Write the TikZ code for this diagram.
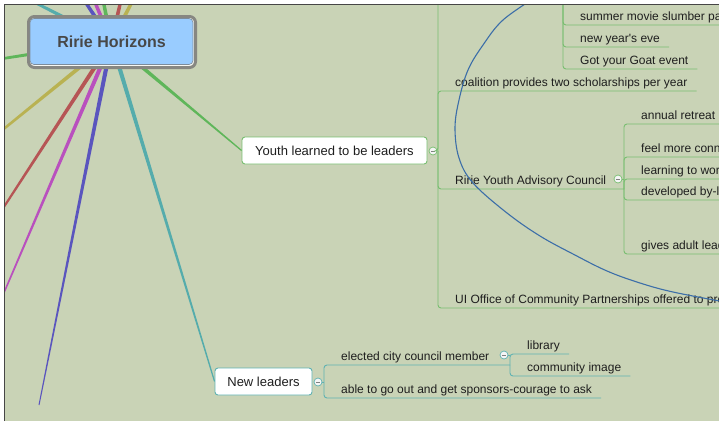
\documentclass[tikz,border=0pt]{standalone}
\usepackage{fontspec}
\setmainfont{Liberation Sans}
\usetikzlibrary{calc}
\pgfdeclarelayer{bg}
\pgfdeclarelayer{lines}
\pgfsetlayers{bg,lines,main}
\definecolor{paper}{RGB}{201,211,182}
\definecolor{frameline}{RGB}{70,70,70}
\definecolor{gline}{RGB}{120,190,112}
\definecolor{tline}{RGB}{95,178,178}
\definecolor{rootblue}{RGB}{153,204,255}
\definecolor{rootedge}{RGB}{125,140,155}
\definecolor{rootframe}{RGB}{135,135,130}
\definecolor{txt}{RGB}{30,30,30}
\definecolor{roottxt}{RGB}{72,72,72}
\definecolor{relblue}{RGB}{60,110,168}
\definecolor{bGreen}{RGB}{95,182,90}
\definecolor{bTeal}{RGB}{85,172,172}
\definecolor{bBlue}{RGB}{90,85,190}
\definecolor{bMag}{RGB}{185,80,190}
\definecolor{bRed}{RGB}{182,85,85}
\definecolor{bOlive}{RGB}{185,178,82}
\newcommand\mmbranch[5]{\fill[#1] ($(#2)!#4!90:(#3)$) -- ($(#3)!#5!-90:(#2)$) -- ($(#3)!#5!90:(#2)$) -- ($(#2)!#4!-90:(#3)$) -- cycle;}
\newcommand\knobmark{\textcolor{gray}{\rule{3.5pt}{0.8pt}}}
\tikzset{
  sub/.style={anchor=south west, inner xsep=9pt, inner ysep=4.3pt, text depth=0pt, text=txt,
    font=\fontsize{12}{14}\selectfont, execute at begin node={\hspace*{8pt}}},
  topicbox/.style={rounded corners=3pt, fill=white, line width=0.9pt, minimum height=27pt,
    inner sep=0pt, text=txt, font=\fontsize{13}{15}\selectfont},
  knob/.style={circle, fill=white!92!gray, line width=0.7pt, minimum size=8pt, inner sep=0pt},
  gl/.style={draw=gline, line width=0.9pt, rounded corners=3pt},
  tl/.style={draw=tline, line width=0.9pt, rounded corners=3pt},
  rootbox/.style={rounded corners=4pt, fill=rootblue, draw=rootedge, line width=0.6pt,
    minimum width=163pt, minimum height=46pt, inner sep=0pt, text=roottxt,
    font=\fontsize{16}{19}\selectfont\bfseries},
  rootring/.style={rounded corners=6pt, draw=rootframe, line width=3pt, fill=white!85!paper,
    minimum width=167pt, minimum height=51pt, inner sep=0pt},
  rel/.style={draw=relblue, line width=1.1pt}
}
\begin{document}
\begin{tikzpicture}[x=1pt,y=-1pt]
\useasboundingbox (0,0) rectangle (719,421);
\begin{pgfonlayer}{bg}
  \fill[white] (0,0) rectangle (719,421);
  \fill[paper] (5,5) rectangle (719,421);
\end{pgfonlayer}

\begin{scope}
\clip (5,5) rectangle (719,421);
% free ends
\coordinate (E) at (730,0);
\coordinate (eGL) at (0,59);
\coordinate (eTT) at (30,0);
\coordinate (eBT) at (84,0);
\coordinate (eMT) at (94,0);
\coordinate (eGT) at (103,0);
\coordinate (eRT) at (121,0);
\coordinate (eOT) at (133,0);
\coordinate (eOB) at (0,132);
\coordinate (eRB) at (0,213);
\coordinate (eMB) at (0,302);
\coordinate (eBB) at (39,405);

% root
\node[rootring] (rring) at (112,42) {};
\node[rootbox] (root) at (111.5,41.5) {Ririe Horizons};

% main topics
\node[topicbox, draw=gline, minimum width=185pt] (youth) at (334.5,150.5) {Youth learned to be leaders};
\node[topicbox, draw=tline, minimum width=97pt] (newl) at (263.5,381.5) {New leaders};

% youth subtree
\node[knob, draw=gline] (c1) at (433,151) {\knobmark};
\coordinate (h1) at (438,151);
\coordinate (top1) at (438,-10);
\coordinate (h2) at (563,-10);
\node[sub] (summer) at (563,25) {summer movie slumber pa};
\node[sub] (nye) at (563,47) {new year\textquotesingle s eve};
\node[sub] (goat) at (563,69) {Got your Goat event};
\node[sub] (coal) at (438,91) {coalition provides two scholarships per year};
\node[sub] (ririe) at (438,189) {Ririe Youth Advisory Council};
\node[sub] (uio) at (438,308) {UI Office of Community Partnerships offered to pro};
\coordinate (h3) at (624,189);
\node[knob, draw=gline] (c3) at (618,179) {\knobmark};
\node[sub] (annual) at (624,124) {annual retreat};
\node[sub] (feel) at (624,157) {feel more conne};
\node[sub] (learn) at (624,179) {learning to wor};
\node[sub] (devel) at (624,200) {developed by-l};
\node[sub] (gives) at (624,254) {gives adult lead};

\draw[gl] (c1) -- (h1) -- (top1);
\draw[gl] (h2) -- (summer.south west) -- (summer.south west -| E);
\draw[gl] (h2) -- (nye.south west) -- (nye.south east);
\draw[gl] (h2) -- (goat.south west) -- (goat.south east);
\draw[gl] (h1) -- (coal.south west) -- (coal.south east);
\draw[gl] (h1) -- (ririe.south west) -- (h3);
\draw[gl] (h1) -- (uio.south west) -- (uio.south west -| E);
\draw[gl] (c3) -- (c3 -| h3);
\draw[gl] (h3) -- (annual.south west) -- (annual.south west -| E);
\draw[gl] (h3) -- (feel.south west) -- (feel.south west -| E);
\draw[gl] (h3) -- (learn.south west) -- (learn.south west -| E);
\draw[gl] (h3) -- (devel.south west) -- (devel.south west -| E);
\draw[gl] (h3) -- (gives.south west) -- (gives.south west -| E);

% new leaders subtree
\node[knob, draw=tline] (c4) at (318,382) {\knobmark};
\coordinate (h4) at (324,382);
\node[sub] (elect) at (324,365) {elected city council member};
\node[sub] (able) at (324,398) {able to go out and get sponsors-courage to ask};
\coordinate (h5) at (510,365);
\node[knob, draw=tline] (c5) at (504,355) {\knobmark};
\node[sub] (lib) at (510,354) {library};
\node[sub] (comm) at (510,376) {community image};

\draw[tl] (c4) -- (h4);
\draw[tl] (h4) -- (elect.south west) -- (h5);
\draw[tl] (h4) -- (able.south west) -- (able.south east);
\draw[tl] (c5) -- (c5 -| h5);
\draw[tl] (h5) -- (lib.south west) -- (lib.south east);
\draw[tl] (h5) -- (comm.south west) -- (comm.south east);

% relationship curve
\draw[rel] plot[smooth, tension=0.6] coordinates {(536,-3) (503,20) (483,45) (468,70) (459,100) (455,128) (459,158) (473,183) (507,213) (540,236) (573,254) (607,271) (640,283) (673,292) (725,302)};
\end{scope}

% branches from the root
\begin{pgfonlayer}{lines}
\begin{scope}
\clip (5,5) rectangle (719,421);
\mmbranch{bGreen}{root.center}{eGL}{2.2pt}{1.3pt}
\mmbranch{bTeal}{root.center}{eTT}{2.2pt}{1.3pt}
\mmbranch{bBlue}{root.center}{eBT}{2.2pt}{1.6pt}
\mmbranch{bMag}{root.center}{eMT}{2.2pt}{1.6pt}
\mmbranch{bGreen}{root.center}{eGT}{2.2pt}{1.6pt}
\mmbranch{bRed}{root.center}{eRT}{2.2pt}{1.6pt}
\mmbranch{bOlive}{root.center}{eOT}{2.2pt}{1.6pt}
\mmbranch{bOlive}{root.center}{eOB}{2.2pt}{1.2pt}
\mmbranch{bRed}{root.center}{eRB}{2.2pt}{1.0pt}
\mmbranch{bMag}{root.center}{eMB}{2.2pt}{0.7pt}
\mmbranch{bBlue}{root.center}{eBB}{2.2pt}{0.5pt}
\mmbranch{bTeal}{root.center}{newl.west}{2.2pt}{0.6pt}
\mmbranch{bGreen}{root.center}{youth.west}{2.2pt}{0.6pt}
\end{scope}
\end{pgfonlayer}

% frame
\draw[frameline, line width=1.2pt] (4.6,421) -- (4.6,4.6) -- (719,4.6);
\end{tikzpicture}
\end{document}
